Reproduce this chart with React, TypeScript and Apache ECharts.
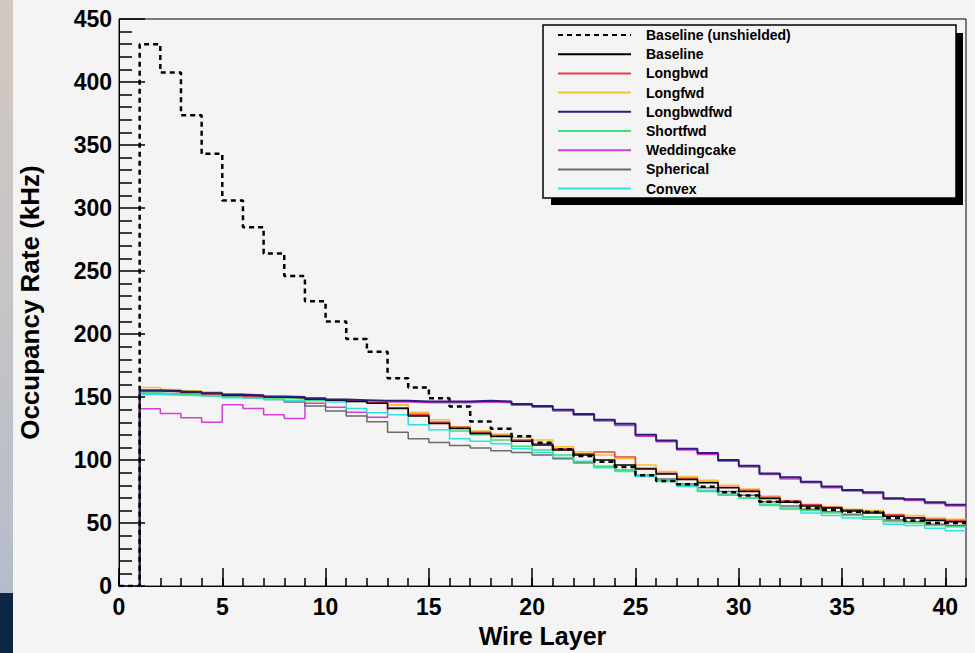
import React, { useEffect, useRef } from "react";
import * as echarts from "echarts";

// Wire layer bin edges (bins 1..40, each 1 wide)
const binStarts: number[] = [1,2,3,4,5,6,7,8,9,10,11,12,13,14,15,16,17,18,19,20,21,22,23,24,25,26,27,28,29,30,31,32,33,34,35,36,37,38,39,40];

const baselineUnshielded = [430,407.5,373.7,343,306,284.8,264,246,226,210,196,186,165,157.6,149,142.6,130.6,124.8,119,113.8,108.6,103.3,98.6,94.6,88,83.4,80.8,78.9,74.5,71.8,67,66.7,62,60.6,59,58.7,54,52,50,50];
const baseline = [155.5,155,154,153,151.5,151,150,149.5,148.5,147.5,146.5,145,141,135,129,125,121,118.8,115,112,108,104,100,96,93,89,84.5,82,78,75,69.5,66.5,63.5,62,59.5,58,55.5,54,52,51];
const longbwd = [155,154.5,153.5,152.5,151.5,150.5,150,149.5,148.5,147.5,147,145.5,141.5,136,130,126,122,119.5,116,113,109,105,106.5,102.5,93.5,89.5,85.5,82.5,78.5,76,70.5,67.5,64.5,62.5,60.5,59,56.5,54.5,53,52];
const longfwd = [157.5,156,155,154,152.5,151.5,150.5,150,149,148,147.5,146.5,144,138,132,126.5,123,120.5,118,116,110.5,106.5,104,101,96,91,87,84,80,77,71.5,68,65,63,61,60,57,56,54,53];
const longbwdfwd = [155,154.5,154,153,152,151.5,150.5,150,149,148,147.5,147,147,146.5,146.5,146.5,147,146.5,144.5,143,140,136.6,132,128.8,120,115.6,109,105.7,100,95.5,89.4,86.3,82.9,79,76.3,74.5,69.8,69,66.6,64.5];
const shortfwd = [153,152.5,152,151,150,149.5,149,148.5,147.5,147,146.5,146,144,137,130,123,120,116,111,108,104,97.5,95,92,88,84,80,75,72,70,65,62,60,58,56,55,51,50,48,47];
const weddingcake = [140.8,137,133.5,130,144,141,136,133,145,142,138,134,146,145.5,145.5,145.5,146,145.5,143.5,142,139,135.5,131,127.5,119,114.5,108,104.5,99,94.5,88.5,85,82,78,75.5,73.5,69,68,65.5,63.5];
const spherical = [153,152.5,152,151.5,150.5,149.5,148,146,143,139,135,130.5,122,117,114,111.5,109.5,107.5,106,104,101,98,95,92,88,85,81,78,75,72,67,63.5,61,59,57,55,52.5,51,49,48];
const convex = [152,151.5,151,150.5,149.5,149,148,147,147,146,141,137.5,136,128,124,117,115,113,109,106,102,99,94,91,87,83,79,76,73,70,64,61,58,56,54,53,49,48,46,44];

const seriesNames = [
  "Baseline (unshielded)",
  "Baseline",
  "Longbwd",
  "Longfwd",
  "Longbwdfwd",
  "Shortfwd",
  "Weddingcake",
  "Spherical",
  "Convex",
];

const FONT = "'Liberation Sans', Arial, Helvetica, sans-serif";

function histData(vals: number[]): number[][] {
  const pts: number[][] = [[0, 0]];
  binStarts.forEach((x, i) => pts.push([x, vals[i]]));
  pts.push([binStarts[binStarts.length - 1] + 1, vals[vals.length - 1]]);
  return pts;
}

export default function App() {
  const ref = useRef<HTMLDivElement>(null);
  useEffect(() => {
    if (!ref.current) return;
    const chart = echarts.init(ref.current, undefined, { renderer: "svg" });

    const mk = (name: string, vals: number[], color: string, width: number, z: number, type: any = "solid") => ({
      name,
      type: "line",
      step: "end",
      data: histData(vals),
      showSymbol: false,
      symbol: "none",
      lineStyle: { color, width, type },
      itemStyle: { color },
      z,
      xAxisIndex: 0,
      yAxisIndex: 0,
    });

    const series = [
      mk("Weddingcake", weddingcake, "#d040d0", 1.5, 2),
      mk("Spherical", spherical, "#6a6a6a", 1.5, 2),
      mk("Convex", convex, "#30e0e0", 1.5, 2),
      mk("Shortfwd", shortfwd, "#3ee07a", 1.5, 2),
      mk("Longfwd", longfwd, "#f2c230", 1.5, 2),
      mk("Longbwd", longbwd, "#e8404a", 1.5, 2),
      mk("Baseline", baseline, "#000000", 1.5, 3),
      mk("Longbwdfwd", longbwdfwd, "#2b1f7a", 2, 3),
      mk("Baseline (unshielded)", baselineUnshielded, "#000000", 2.5, 4, [5, 4]),
    ];

    chart.setOption({
      animation: false,
      backgroundColor: "#f4f4f4",
      textStyle: { fontFamily: FONT },
      grid: {
        left: 119,
        top: 19,
        right: 9,
        bottom: 60,
        show: true,
        borderColor: "#000",
        borderWidth: 1,
        backgroundColor: "#f4f4f4",
      },
      graphic: [
        {
          type: "rect",
          shape: { x: 0, y: 0, width: 13, height: 593 },
          style: {
            fill: new echarts.graphic.LinearGradient(0, 0, 0, 1, [
              { offset: 0, color: "#d4c8c0" },
              { offset: 0.5, color: "#c6c4c6" },
              { offset: 1, color: "#b4bccb" },
            ]),
          },
          silent: true,
        },
        {
          type: "rect",
          shape: { x: 0, y: 593, width: 13, height: 60 },
          style: { fill: "#0c2744" },
          silent: true,
        },
        {
          type: "rect",
          shape: { x: 551, y: 33, width: 412, height: 172 },
          style: { fill: "#000" },
          z: 5,
          silent: true,
        },
        {
          type: "rect",
          shape: { x: 543, y: 25, width: 413, height: 173 },
          style: { fill: "#f4f4f4", stroke: "#000", lineWidth: 1.5 },
          z: 6,
          silent: true,
        },
      ],
      legend: {
        data: seriesNames,
        orient: "vertical",
        left: 557,
        top: 28,
        padding: 0,
        itemWidth: 73,
        itemHeight: 14,
        itemGap: 5.2,
        z: 10,
        itemStyle: { opacity: 0 },
        textStyle: {
          fontFamily: FONT,
          fontWeight: "bold",
          fontSize: 14,
          color: "#000",
          padding: [0, 0, 0, 10],
          lineHeight: 14,
        },
      },
      xAxis: [
        {
          type: "value",
          min: 0,
          max: 41,
          interval: 5,
          position: "bottom",
          name: "Wire Layer",
          nameLocation: "middle",
          nameGap: 33,
          nameTextStyle: { fontFamily: FONT, fontWeight: "bold", fontSize: 25, color: "#000" },
          axisLine: { show: true, lineStyle: { color: "#000", width: 1 } },
          axisTick: { show: true, inside: true, length: 18, lineStyle: { color: "#000", width: 1.5 } },
          axisLabel: {
            showMaxLabel: false,
            fontFamily: FONT,
            fontWeight: "bold",
            fontSize: 23,
            color: "#000",
            margin: 9,
          },
          splitLine: { show: false },
        },
        {
          type: "value",
          min: 0,
          max: 41,
          interval: 1,
          position: "bottom",
          axisLine: { show: false },
          axisTick: { show: true, inside: true, length: 8, lineStyle: { color: "#000", width: 1.5 } },
          axisLabel: { show: false },
          splitLine: { show: false },
        },
      ],
      yAxis: [
        {
          type: "value",
          min: 0,
          max: 450,
          interval: 50,
          name: "Occupancy Rate (kHz)",
          nameLocation: "middle",
          nameGap: 76,
          nameTextStyle: { fontFamily: FONT, fontWeight: "bold", fontSize: 26, color: "#000" },
          axisLine: { show: true, lineStyle: { color: "#000", width: 1 } },
          axisTick: { show: true, inside: true, length: 26, lineStyle: { color: "#000", width: 1.5 } },
          minorTick: { show: true, splitNumber: 5, length: 13, lineStyle: { color: "#000", width: 1.5 } },
          axisLabel: {
            fontFamily: FONT,
            fontWeight: "bold",
            fontSize: 23,
            color: "#000",
            margin: 7,
          },
          splitLine: { show: false },
          minorSplitLine: { show: false },
        },
      ],
      series,
    });

    return () => chart.dispose();
  }, []);

  return (
    <div
      ref={ref}
      style={{ position: "fixed", left: 0, top: 0, width: 975, height: 653 }}
    />
  );
}
